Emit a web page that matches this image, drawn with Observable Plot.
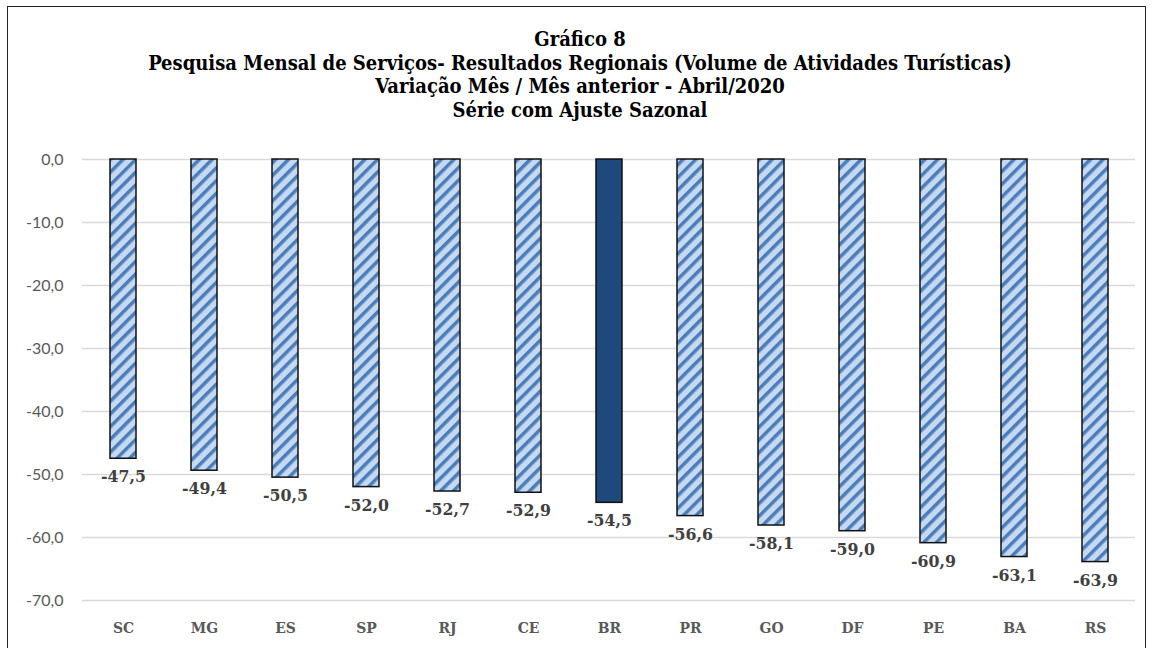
<!DOCTYPE html>
<html><head><meta charset="utf-8">
<script src="https://cdn.jsdelivr.net/npm/d3@7"></script>
<script src="https://cdn.jsdelivr.net/npm/@observablehq/plot@0.6"></script>
<style>
html,body{margin:0;padding:0;background:#fff;width:1153px;height:648px;overflow:hidden;}
#frame{position:absolute;left:7px;top:6px;width:1139px;height:700px;border:1.5px solid #222;box-sizing:border-box;}
#title{position:absolute;left:0;top:28px;width:1160px;text-align:center;font-family:"DejaVu Serif";font-stretch:condensed;font-weight:bold;font-size:20px;line-height:23.5px;color:#000;}
#chart{position:absolute;left:0;top:0;}
</style></head>
<body>
<div id="frame"></div>
<div id="title"></div>
<div id="chart"></div>
<script>
const titleLines = ["Gráfico 8","Pesquisa Mensal de Serviços- Resultados Regionais (Volume de Atividades Turísticas)","Variação Mês / Mês anterior - Abril/2020","Série com Ajuste Sazonal"];
const regions = ["SC","MG","ES","SP","RJ","CE","BR","PR","GO","DF","PE","BA","RS"];
const values = [-47.5,-49.4,-50.5,-52.0,-52.7,-52.9,-54.5,-56.6,-58.1,-59.0,-60.9,-63.1,-63.9];
const yTicks = [0,-10,-20,-30,-40,-50,-60,-70];
const highlight = "BR";

document.getElementById("title").innerHTML = titleLines.map(t=>`<div>${t}</div>`).join("");
const data = regions.map((r,i)=>({region:r, value:values[i]}));
const fmt = v => v.toFixed(1).replace(".", ",");

const chart = Plot.plot({
  width:1153, height:648,
  marginLeft:82, marginRight:18, marginTop:159, marginBottom:48,
  x:{domain:regions, label:null, paddingInner:0.68, paddingOuter:0.34, tickSize:0, tickPadding:21},
  y:{domain:[-70,0], label:null, ticks:yTicks, tickFormat:fmt, tickSize:0, tickPadding:19},
  marks:[
    Plot.ruleY(yTicks,{stroke:"#d9d9d9", strokeWidth:1.5}),
    Plot.barY(data,{x:"region", y:"value", fill:d=>d.region===highlight?"#1f497d":"url(#hatch)", stroke:"#111", strokeWidth:1.5}),
    Plot.text(data,{x:"region", y:"value", text:d=>fmt(d.value), dy:18, fill:"#404040", fontFamily:"DejaVu Serif", fontWeight:"bold", fontSize:17.5})
  ]
});
chart.style.fontFamily = "Lato";
d3.select(chart).selectAll("g[aria-label='y-axis tick label']").attr("font-size",16).attr("fill","#595959").attr("font-family","Lato");
d3.select(chart).selectAll("g[aria-label='x-axis tick label']").attr("font-size",15.5).attr("fill","#595959").attr("font-family","DejaVu Serif").attr("font-weight","bold").style("font-stretch","condensed");
d3.select(chart).selectAll("g[aria-label='text'] text").style("font-stretch","condensed");
const defs = d3.select(chart).insert("defs",":first-child");
const p = defs.append("pattern").attr("id","hatch").attr("patternUnits","userSpaceOnUse").attr("width",9).attr("height",9).attr("patternTransform","rotate(45)");
p.append("rect").attr("width",9).attr("height",9).attr("fill","#c6d9f1");
p.append("rect").attr("width",3.5).attr("height",9).attr("fill","#4a7ebb");
document.getElementById("chart").appendChild(chart);
</script>
</body></html>
